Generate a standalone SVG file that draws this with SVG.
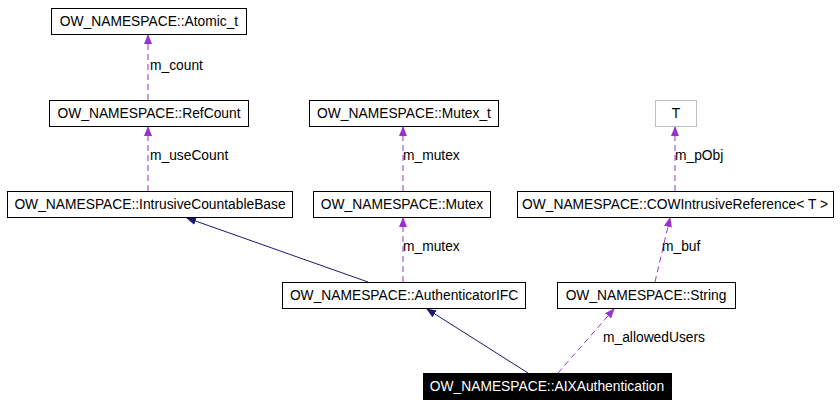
<svg xmlns="http://www.w3.org/2000/svg" width="840" height="403" viewBox="0 0 840 403">
<style>
text{font-family:"Liberation Sans",Arial,sans-serif;font-size:13.8px}
.n rect{fill:#fff;stroke:#000;stroke-width:1}
.n text{text-anchor:middle}
.d{stroke:#9a32cd;stroke-dasharray:6,4;fill:none}
.s{stroke:#191970;fill:none}
</style>
<defs>
<marker id="ap" markerWidth="10" markerHeight="10" refX="9" refY="5" orient="auto" markerUnits="userSpaceOnUse"><path d="M0,1 L10,5 L0,9Z" fill="#9a32cd"/></marker>
<marker id="an" markerWidth="10" markerHeight="10" refX="9" refY="5" orient="auto" markerUnits="userSpaceOnUse"><path d="M0,1 L10,5 L0,9Z" fill="#191970"/></marker>
</defs>
<rect width="840" height="403" fill="#fff"/>
<g id="connectors">
<path class="d" d="M148,100 L148,35" marker-end="url(#ap)"/>
<path class="d" d="M148,191 L148,127" marker-end="url(#ap)"/>
<path class="d" d="M403,191 L403,127" marker-end="url(#ap)"/>
<path class="d" d="M403,282 L403,218" marker-end="url(#ap)"/>
<path class="d" d="M675,191 L675,127" marker-end="url(#ap)"/>
<path class="d" d="M655,282 L670,218" marker-end="url(#ap)"/>
<path class="d" d="M558,373 L614,309" marker-end="url(#ap)"/>
<path class="s" d="M368,282 L187,218" marker-end="url(#an)"/>
<path class="s" d="M528,373 L427,309" marker-end="url(#an)"/>
<text x="150" y="70">m_count</text>
<text x="150" y="160">m_useCount</text>
<text x="403" y="160">m_mutex</text>
<text x="403" y="251">m_mutex</text>
<text x="675" y="160">m_pObj</text>
<text x="662" y="251">m_buf</text>
<text x="603" y="342">m_allowedUsers</text>
</g>
<g id="atomic" class="n"><rect x="51.5" y="8.5" width="195" height="26"/><text x="149" y="26">OW_NAMESPACE::Atomic_t</text></g>
<g id="refcount" class="n"><rect x="49.5" y="100.5" width="199" height="26"/><text x="149" y="118">OW_NAMESPACE::RefCount</text></g>
<g id="mutex_t" class="n"><rect x="309.5" y="100.5" width="189" height="26"/><text x="404" y="118">OW_NAMESPACE::Mutex_t</text></g>
<g id="T" class="n"><rect x="655.5" y="100.5" width="41" height="26" style="stroke:#bfbfbf"/><text x="676" y="118">T</text></g>
<g id="icb" class="n"><rect x="7.5" y="191.5" width="285" height="26"/><text x="150" y="209">OW_NAMESPACE::IntrusiveCountableBase</text></g>
<g id="mutex" class="n"><rect x="313.5" y="191.5" width="177" height="26"/><text x="402" y="209">OW_NAMESPACE::Mutex</text></g>
<g id="cow" class="n"><rect x="517.5" y="191.5" width="316" height="26"/><text x="675" y="209">OW_NAMESPACE::COWIntrusiveReference&lt; T &gt;</text></g>
<g id="authifc" class="n"><rect x="282.5" y="282.5" width="243" height="26"/><text x="404" y="300">OW_NAMESPACE::AuthenticatorIFC</text></g>
<g id="string" class="n"><rect x="557.5" y="282.5" width="178" height="26"/><text x="646" y="300">OW_NAMESPACE::String</text></g>
<g id="aix" class="n"><rect x="423.5" y="373.5" width="248" height="26" style="fill:#000"/><text x="547" y="391" style="fill:#fff">OW_NAMESPACE::AIXAuthentication</text></g>
</svg>
